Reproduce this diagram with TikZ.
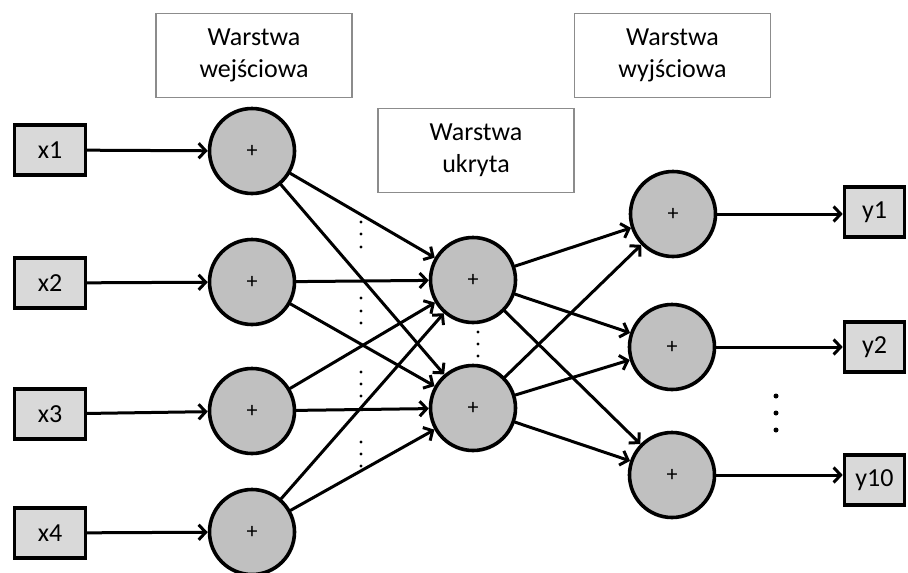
\documentclass[tikz,border=0pt]{standalone}
\usepackage{fontspec}
\setmainfont{Carlito}
\usetikzlibrary{arrows.meta}
\definecolor{neurongray}{HTML}{C0C0C0}
\definecolor{boxgray}{HTML}{D9D9D9}
\definecolor{labelgray}{HTML}{8C8C8C}
\begin{document}
\begin{tikzpicture}[x=1pt,y=-1pt,
  neuron/.style={circle, draw=black, line width=3.6pt, fill=neurongray,
    minimum size=85pt, inner sep=0pt, font=\fontsize{22}{22}\selectfont},
  iobox/.style={draw=black, line width=3.6pt, fill=boxgray,
    minimum width=71pt, minimum height=50pt, inner sep=0pt,
    font=\fontsize{26}{26}\selectfont},
  outbox/.style={iobox, minimum width=60pt},
  labelbox/.style={draw=labelgray, line width=1.8pt, fill=white,
    minimum width=196pt, minimum height=84pt, align=center, inner sep=0pt,
    font=\fontsize{26}{32}\selectfont},
  conn/.style={line width=3pt, line cap=round,
    -{Straight Barb[length=7pt,width=15pt,line width=3pt]}},
  smalldot/.style={fill=black},
]
\useasboundingbox (0,0) rectangle (908,573);

% label boxes
\node[labelbox] (lin)  at (254,55.5)  {Warstwa\\wejściowa};
\node[labelbox] (lhid) at (476,150.5) {Warstwa\\ukryta};
\node[labelbox] (lout) at (672.5,55.5) {Warstwa\\wyjściowa};

% input boxes
\node[iobox] (x1) at (50,150) {x1};
\node[iobox] (x2) at (50,283) {x2};
\node[iobox] (x3) at (50,414) {x3};
\node[iobox] (x4) at (50,533) {x4};

% input neurons
\node[neuron] (i1) at (252,151) {+};
\node[neuron] (i2) at (252,282) {+};
\node[neuron] (i3) at (252,411) {+};
\node[neuron] (i4) at (252,532) {+};

% hidden neurons
\node[neuron] (h1) at (473,280) {+};
\node[neuron] (h2) at (473,408) {+};

% output neurons
\node[neuron] (o1) at (673,214) {+};
\node[neuron] (o2) at (672,347) {+};
\node[neuron] (o3) at (672,475) {+};

% output boxes
\node[outbox] (y1) at (874.5,212) {y1};
\node[outbox] (y2) at (874.5,347) {y2};
\node[outbox] (y3) at (874.5,480) {y10};

% connectors
\foreach \k in {1,2,3,4} {
  \draw[conn] (x\k) -- (i\k);
  \draw[conn] (i\k) -- (h1);
  \draw[conn] (i\k) -- (h2);
}
\foreach \h in {1,2} {
  \foreach \o in {1,2,3} {
    \draw[conn] (h\h) -- (o\o);
  }
}
\draw[conn] (o1.east) -- (y1.west |- o1.east);
\draw[conn] (o2.east) -- (y2.west |- o2.east);
\draw[conn] (o3.east) -- (y3.west |- o3.east);

% dots between input and hidden layers
\foreach \yy in {222,234,247, 298,311,323, 372,384,396, 442,454,466} {
  \fill[smalldot] (361,\yy) circle (1.6pt);
}
% dots between hidden neurons
\foreach \yy in {332,344,356} {
  \fill[smalldot] (478,\yy) circle (1.7pt);
}
% dots between output neurons
\foreach \yy in {396,413,430} {
  \fill[smalldot] (776,\yy) circle (2.5pt);
}
\end{tikzpicture}
\end{document}
